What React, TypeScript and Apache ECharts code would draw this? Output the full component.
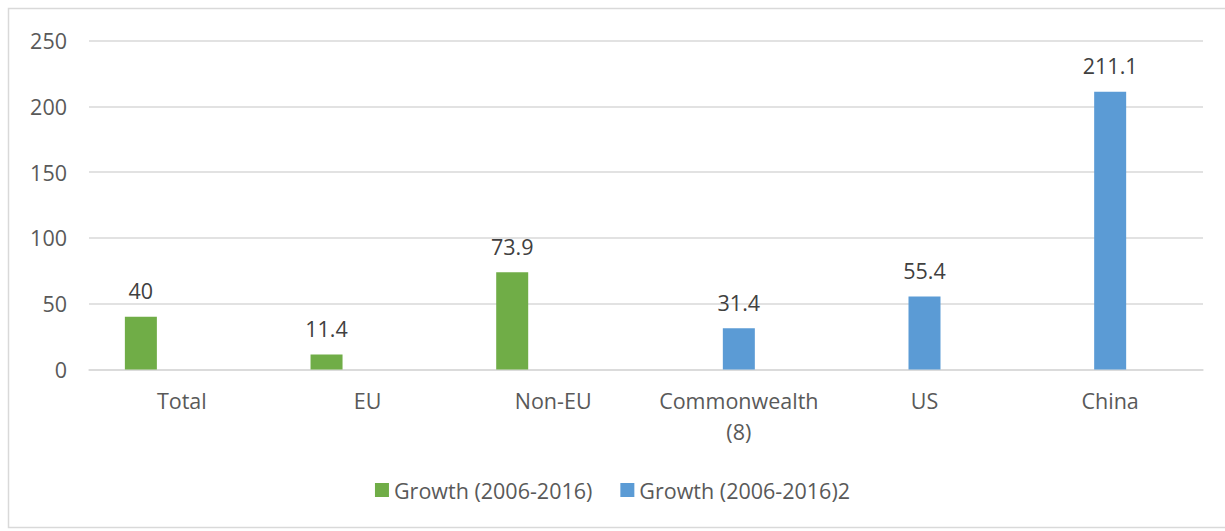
import React, { useEffect, useRef } from "react";
import * as echarts from "echarts";

const categories = ["Total", "EU", "Non-EU", "Commonwealth\n(8)", "US", "China"];
const seriesNames = ["Growth (2006-2016)", "Growth (2006-2016)2"];
const growth1: (number | null)[] = [40, 11.4, 73.9, null, null, null];
const growth2: (number | null)[] = [null, null, null, 31.4, 55.4, 211.1];
const yTicks = { min: 0, max: 250, interval: 50 };

const FONT = "Open Sans";
const FS = 21.5;

export default function App() {
  const ref = useRef<HTMLDivElement>(null);
  useEffect(() => {
    if (!ref.current) return;
    const chart = echarts.init(ref.current, undefined, { renderer: "svg" });
    const labelStyle = {
      show: true,
      position: "top" as const,
      distance: 15,
      color: "#404040",
      fontSize: FS,
      fontFamily: FONT,
      formatter: (p: any) => (p.value == null ? "" : String(p.value)),
    };
    chart.setOption({
      animation: false,
      backgroundColor: "#ffffff",
      textStyle: { fontFamily: FONT },
      graphic: [
        {
          type: "rect",
          shape: { x: 8.5, y: 8.5, width: 1240, height: 519 },
          style: { fill: "none", stroke: "#d9d9d9", lineWidth: 1.5 },
          silent: true,
        },
      ],
      grid: { left: 89, right: 22, top: 40.5, bottom: 161.5 },
      legend: {
        show: true,
        top: 474,
        left: "center",
        itemWidth: 14,
        itemHeight: 14,
        itemGap: 28,
        icon: "rect",
        textStyle: { color: "#595959", fontSize: FS, fontFamily: FONT },
        data: seriesNames,
      },
      xAxis: {
        type: "category",
        data: categories,
        axisLine: { show: true, lineStyle: { color: "#d9d9d9", width: 1.5 } },
        axisTick: { show: false },
        axisLabel: {
          color: "#595959",
          fontSize: FS,
          fontFamily: FONT,
          margin: 15,
          lineHeight: 31,
          interval: 0,
        },
      },
      yAxis: {
        type: "value",
        min: yTicks.min,
        max: yTicks.max,
        interval: yTicks.interval,
        axisLine: { show: false },
        axisTick: { show: false },
        splitLine: { lineStyle: { color: "#d9d9d9", width: 1.5 } },
        axisLabel: { color: "#595959", fontSize: FS, fontFamily: FONT, margin: 22 },
      },
      series: [
        {
          name: seriesNames[0],
          type: "bar",
          data: growth1,
          barWidth: 32,
          barGap: "28%",
          itemStyle: { color: "#70ad47" },
          label: labelStyle,
        },
        {
          name: seriesNames[1],
          type: "bar",
          data: growth2,
          barWidth: 32,
          barGap: "28%",
          itemStyle: { color: "#5b9bd5" },
          label: labelStyle,
        },
        {
          name: "spacer",
          type: "bar",
          data: [],
          barWidth: 32,
          barGap: "28%",
          itemStyle: { color: "transparent" },
        },
      ],
    });
    return () => chart.dispose();
  }, []);
  return (
    <div
      ref={ref}
      style={{ position: "fixed", left: 0, top: 0, width: 1225, height: 531 }}
    />
  );
}
